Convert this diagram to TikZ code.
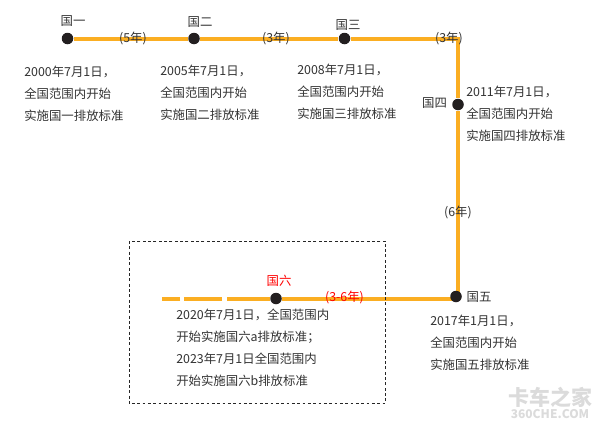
\documentclass[tikz,border=0pt]{standalone}
\usepackage{fontspec}
\usetikzlibrary{backgrounds}
\setmainfont{Noto Sans CJK SC}
\definecolor{lineor}{HTML}{FBAE22}
\definecolor{dotk}{HTML}{231F20}
\definecolor{txt}{HTML}{333333}
\tikzset{
  pdot/.style={circle,fill=dotk,inner sep=0pt,minimum size=11.5*0.75pt},
  cn/.style={inner sep=0pt,text=txt,font=\fontsize{9.3pt}{16.5pt}\selectfont},
  note/.style={cn,anchor=north west,align=left},
  yrs/.style={cn},
  tline/.style={draw=lineor,line width=3pt},
}
\begin{document}
\begin{tikzpicture}[x=0.75pt,y=-0.75pt]
\useasboundingbox (0,0) rectangle (600,425);
\draw[line width=0.6pt,black!85,dash pattern=on 2.2pt off 1.8pt] (129,241) rectangle (385.5,403.5);
\node[pdot] (g1) at (67.5,38.5) {};
\node[pdot] (g2) at (194,38.5) {};
\node[pdot] (g3) at (344.5,38.5) {};
\node[pdot] (g4) at (458,104.5) {};
\node[pdot] (g5) at (456,296.5) {};
\node[pdot] (g6) at (276,298.5) {};
\coordinate (c) at (458,38.5);
\coordinate (d1) at (227,298.5);
\coordinate (d2) at (222,298.5);
\coordinate (d3) at (184,298.5);
\coordinate (d4) at (180,298.5);
\coordinate (d5) at (162,298.5);
\coordinate (b) at (458,296.5);
\coordinate (e) at (456,298.5);
\begin{scope}[on background layer]
\fill[white] (0,0) rectangle (600,425);
\draw[tline] (g1) -- (g2);
\draw[tline] (g2) -- (g3);
\draw[tline] (g3) -- (c) -- (g4);
\draw[tline] (g4) -- (b);
\draw[tline] (e) -- (g6);
\draw[tline] (g6) -- (d1);
\draw[tline] (d2) -- (d3);
\draw[tline] (d4) -- (d5);
\end{scope}
\node[cn] (l1) at (73,21.5) {国一};
\node[cn] (l2) at (200,22.5) {国二};
\node[cn] (l3) at (348,25) {国三};
\node[cn] (l4) at (434.5,103.5) {国四};
\node[cn] (l5) at (479,297) {国五};
\node[cn,text=red] (l6) at (279,281) {国六};
\node[yrs] (y1) at (133,38) {(5年)};
\node[yrs] (y2) at (276,38) {(3年)};
\node[yrs] (y3) at (449,38) {(3年)};
\node[yrs] (y4) at (458,212) {(6年)};
\node[yrs,text=red] (y5) at (344.5,297.5) {(3-6年)};
\node[note] (n1) at (24,65.5) {2000年7月1日，\\全国范围内开始\\实施国一排放标准};
\node[note] (n2) at (160,64.5) {2005年7月1日，\\全国范围内开始\\实施国二排放标准};
\node[note] (n3) at (297,64) {2008年7月1日，\\全国范围内开始\\实施国三排放标准};
\node[note] (n4) at (466,85.5) {2011年7月1日，\\全国范围内开始\\实施国四排放标准};
\node[note] (n5) at (430,315) {2017年1月1日，\\全国范围内开始\\实施国五排放标准};
\node[note] (n6) at (176,309) {2020年7月1日，全国范围内\\开始实施国六a排放标准；\\2023年7月1日全国范围内\\开始实施国六b排放标准};
\node[inner sep=0pt,text=black!14,font=\bfseries\fontsize{15.75pt}{15.75pt}\selectfont] (w1) at (550,397) {卡车之家};
\node[inner sep=0pt,text=black!14,font=\bfseries\fontsize{9pt}{9pt}\selectfont] (w2) at (550,414) {360CHE.COM};
\end{tikzpicture}
\end{document}
